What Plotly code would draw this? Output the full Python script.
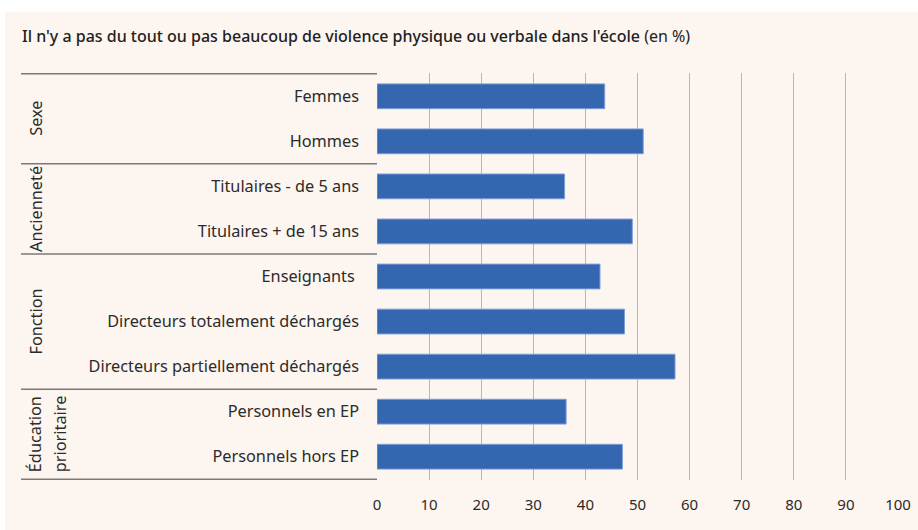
import plotly.graph_objects as go

categories = [
    "Femmes", "Hommes",
    "Titulaires - de 5 ans", "Titulaires + de 15 ans",
    "Enseignants ", "Directeurs totalement déchargés", "Directeurs partiellement déchargés",
    "Personnels en EP", "Personnels hors EP",
]
values = [43.7, 51.1, 36.0, 49.0, 42.8, 47.5, 57.2, 36.3, 47.1]
groups = ["Sexe", "Ancienneté", "Fonction", "Éducation|prioritaire"]
group_sizes = [2, 2, 3, 2]
x_ticks = [0, 10, 20, 30, 40, 50, 60, 70, 80, 90, 100]
title_main = "Il n'y a pas du tout ou pas beaucoup de violence physique ou verbale dans l'école"
title_unit = "(en %)"

W, H = 918, 530
L, R, T, B = 377, 20, 73, 50
PW, PH = W - L - R, H - T - B

def px(x):  # page pixel x -> paper
    return (x - L) / PW

def py(y):  # page pixel y -> paper
    return (H - B - y) / PH

FONT = "Noto Sans"
BG = "#FDF5EF"
TXT = "#2b2b2b"

fig = go.Figure()
fig.add_trace(go.Bar(
    y=categories, x=values, orientation="h",
    marker=dict(color="#3567B1", line=dict(color="#7D9DD6", width=1)),
    width=0.55, hoverinfo="x+y",
))

shapes = []
# white top band and left strip
shapes.append(dict(type="rect", xref="paper", yref="paper", x0=px(0), x1=px(W), y0=py(12), y1=py(0),
                   fillcolor="white", line=dict(width=0), layer="below"))
shapes.append(dict(type="rect", xref="paper", yref="paper", x0=px(0), x1=px(5), y0=py(H), y1=py(0),
                   fillcolor="white", line=dict(width=0), layer="below"))

annotations = []
start = 0
bounds = [-0.5]
for g, n in zip(groups, group_sizes):
    center = start + (n - 1) / 2
    parts = g.split("|")
    xs = [36] if len(parts) == 1 else [35, 60]
    for xp, t in zip(xs, parts):
        annotations.append(dict(text=t, xref="paper", yref="y", x=px(xp), y=center,
                                textangle=-90, showarrow=False, xanchor="center", yanchor="middle",
                                font=dict(family=FONT, size=16.3, color=TXT)))
    start += n
    bounds.append(start - 0.5)

for b in bounds:
    shapes.append(dict(type="line", xref="paper", yref="y", x0=px(21), x1=px(377), y0=b, y1=b,
                       line=dict(color="#7a7a7a", width=1.5)))

annotations.append(dict(
    text=f"{title_main} <span style='font-weight:normal'>{title_unit}</span>",
    xref="paper", yref="paper", x=px(20), y=py(36), xanchor="left", yanchor="middle",
    showarrow=False, font=dict(family=FONT, size=16, color="#222222", weight=500)))

fig.update_layout(
    width=W, height=H,
    margin=dict(l=L, r=R, t=T, b=B, autoexpand=False),
    paper_bgcolor=BG, plot_bgcolor=BG,
    showlegend=False,
    shapes=shapes,
    annotations=annotations,
    font=dict(family=FONT, size=16, color=TXT),
    xaxis=dict(range=[0, 100], tickvals=x_ticks, showgrid=True, gridcolor="#b8b8b8", gridwidth=1.3,
               zeroline=False, showline=False, ticks="", ticklabelstandoff=14, automargin=False,
               tickfont=dict(family=FONT, size=15, color=TXT), fixedrange=True),
    yaxis=dict(autorange="reversed", showgrid=False, showline=False, ticks="", automargin=False,
               ticklabelstandoff=17, tickfont=dict(family=FONT, size=16.3, color=TXT),
               fixedrange=True),
)

fig.write_html(
    "out.html",
    config={"displayModeBar": False},
    post_script="document.body.style.margin='0';document.body.style.overflow='hidden';",
)
